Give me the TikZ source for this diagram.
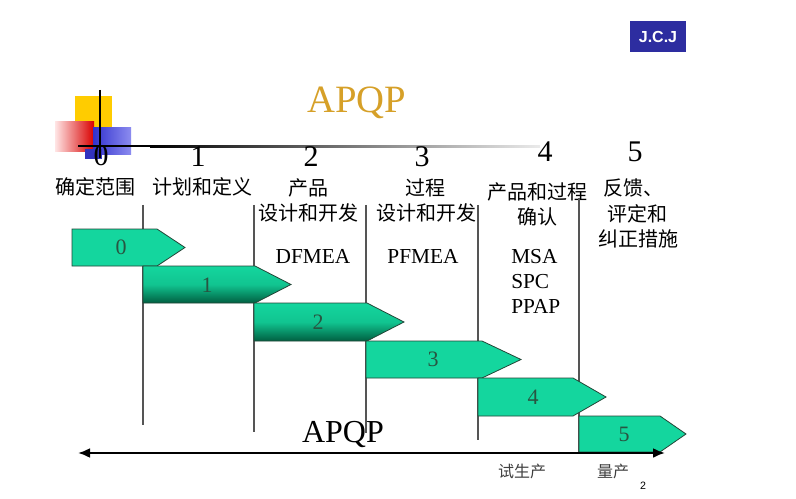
\documentclass[tikz,border=0pt]{standalone}
\usepackage{fontspec}
\setmainfont{Liberation Serif}
\newfontfamily\cjk{Noto Sans CJK SC}
\newfontfamily\lsans{Liberation Sans}
\usetikzlibrary{arrows.meta}
\definecolor{jcjblue}{RGB}{45,45,160}
\definecolor{gold}{RGB}{214,160,40}
\definecolor{barfill}{RGB}{20,214,158}
\definecolor{bardark}{RGB}{0,95,65}
\definecolor{barline}{RGB}{35,70,55}
\definecolor{bartext}{RGB}{40,85,65}
\definecolor{vline}{RGB}{85,85,85}
\definecolor{sqyellow}{RGB}{255,204,0}
\definecolor{sqblueA}{RGB}{50,50,205}
\definecolor{sqblueB}{RGB}{140,140,240}
\definecolor{sqblueC}{RGB}{50,50,190}
\tikzset{
  phase/.style={draw=barline, line width=0.6pt, fill=barfill},
  phasedark/.style={draw=barline, line width=0.6pt, top color=barfill, bottom color=bardark, middle color=barfill!85!bardark},
  phasenum/.style={font=\fontsize{16.5}{18}\selectfont, text=bartext, inner sep=0pt},
  topnum/.style={font=\fontsize{22.5}{24}\selectfont, inner sep=0pt},
  cjklbl/.style={font=\cjk\fontsize{15}{19}\selectfont, inner sep=0pt, align=center},
  toolslbl/.style={font=\fontsize{16}{18}\selectfont, inner sep=0pt},
  divider/.style={draw=vline, line width=0.9pt}
}
\newcommand\phasebar[7]{% style, x1, x2, xt, ytop, ybot, name
  \path[#1] (#2,#5) -- (#3,#5) -- (#4,{(#5+#6)/2}) -- (#3,#6) -- (#2,#6) -- cycle;
}
\begin{document}
\begin{tikzpicture}[x=0.75pt,y=-0.75pt]
\useasboundingbox (0,0) rectangle (796,499);
\fill[white] (0,0) rectangle (796,499);

% J.C.J badge
\node[fill=jcjblue, text=white, font=\lsans\bfseries\fontsize{12}{14}\selectfont,
      minimum width=42pt, minimum height=23.25pt, inner sep=0pt] (jcj) at (658,36.5) {J.C.J};

% decorative squares
\fill[sqyellow] (75,96) rectangle (112,128);
\shade[left color=red!10, right color=red!85!black] (55,122) rectangle (94,152);
\shade[left color=sqblueA, right color=sqblueB] (93,128) rectangle (131,155);
\fill[sqblueC] (85,149) rectangle (102,159);
\draw[line width=1.3pt] (100,90) -- (100,158);
\shade[left color=black, right color=black!8] (150,145.2) rectangle (540,147.2);
\fill[black] (78,145.2) rectangle (150,147.2);

% title
\node[font=\fontsize{29}{32}\selectfont, text=gold, inner sep=0pt] (title) at (357,103) {APQP};

% top numbers
\node[topnum] (n0) at (101,156) {0};
\node[topnum] (n1) at (198,157) {1};
\node[topnum] (n2) at (311,157) {2};
\node[topnum] (n3) at (422,157) {3};
\node[topnum] (n4) at (545,152) {4};
\node[topnum] (n5) at (635,152) {5};

% stage labels
\node[cjklbl] (l0) at (95,187) {确定范围};
\node[cjklbl] (l1) at (202,187) {计划和定义};
\node[cjklbl] (l2a) at (308,188) {产品};
\node[cjklbl] (l2b) at (308,213) {设计和开发};
\node[cjklbl] (l3a) at (425,188) {过程};
\node[cjklbl] (l3b) at (426,213) {设计和开发};
\node[cjklbl] (l4a) at (537,192) {产品和过程};
\node[cjklbl] (l4b) at (537,217) {确认};
\node[cjklbl] (l5a) at (633,188) {反馈、};
\node[cjklbl] (l5b) at (637,214) {评定和};
\node[cjklbl] (l5c) at (638,239) {纠正措施};

% tools
\node[toolslbl] (dfmea) at (313,256) {DFMEA};
\node[toolslbl] (pfmea) at (423,256) {PFMEA};
\node[toolslbl, anchor=west] (msa) at (511,257) {MSA};
\node[toolslbl, anchor=west] (spc) at (511,282) {SPC};
\node[toolslbl, anchor=west] (ppap) at (511,306) {PPAP};

% dividers
\draw[divider] (143,205) -- (143,425);
\draw[divider] (254,205) -- (254,432);
\draw[divider] (366,205) -- (366,433);
\draw[divider] (478,205) -- (478,440);
\draw[divider] (579,198) -- (579,452);

% phase bars
\phasebar{phase}{72}{157}{185}{229}{266}{p0}
\phasebar{phasedark}{143}{255}{291}{266}{303}{p1}
\phasebar{phasedark}{254}{367}{404}{303}{341}{p2}
\phasebar{phase}{366}{482}{521}{341}{378}{p3}
\phasebar{phase}{478}{573}{606}{378}{416}{p4}
\phasebar{phase}{579}{660}{686}{416}{452}{p5}
\node[phasenum] (b0) at (121,247) {0};
\node[phasenum] (b1) at (207,285) {1};
\node[phasenum] (b2) at (318,322) {2};
\node[phasenum] (b3) at (433,359) {3};
\node[phasenum] (b4) at (533,397) {4};
\node[phasenum] (b5) at (624,434) {5};

% bottom axis
\coordinate (axL) at (78,453);
\coordinate (axR) at (665,453);
\draw[line width=1.7pt, {Latex[length=9pt,width=7.5pt]}-{Latex[length=9pt,width=7.5pt]}] (axL) -- (axR);
\node[font=\fontsize{24}{26}\selectfont, inner sep=0pt] (apqp2) at (343,434) {APQP};
\node[font=\cjk\fontsize{12}{14}\selectfont, text=black!75, inner sep=0pt] (trial) at (522,471) {试生产};
\node[font=\cjk\fontsize{12}{14}\selectfont, text=black!75, inner sep=0pt] (mass) at (613,471) {量产};
\node[font=\lsans\fontsize{8}{9}\selectfont, inner sep=0pt] (pg) at (643,486) {2};
\end{tikzpicture}
\end{document}
